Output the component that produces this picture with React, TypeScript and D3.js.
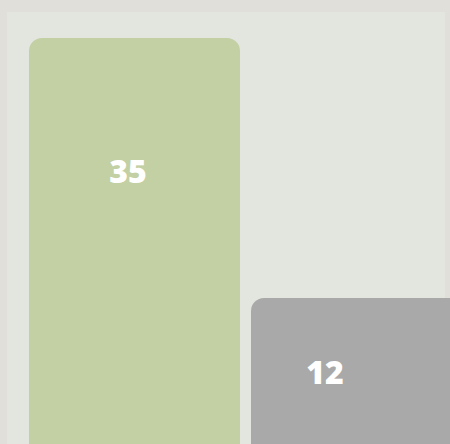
import React, { useEffect, useRef } from 'react';
import * as d3 from 'd3';

const categories = ['A', 'B'];
const values = [35, 12];
const barColors = ['#c2d0a4', '#a9a9a9'];
// where the label sits across each bar (fraction of bar width)
const labelAlong = [0.469, 0.351];

const W = 450;
const H = 444;

const App = () => {
    const svgRef = useRef<SVGSVGElement>(null);

    useEffect(() => {
        document.body.style.margin = '0';
        if (!svgRef.current) return;
        const svg = d3.select(svgRef.current);
        svg.selectAll('*').remove();

        const x = d3.scaleBand()
            .domain(categories)
            .range([29, 462])
            .paddingInner(11 / 222)
            .paddingOuter(0);

        const y = d3.scaleLinear()
            .domain([12, 35])
            .range([298, 38]);

        // page + inner panel
        svg.append('rect')
            .attr('width', W).attr('height', H)
            .attr('fill', '#e1dfda');
        svg.append('rect')
            .attr('x', 7).attr('y', 12)
            .attr('width', 438).attr('height', H)
            .attr('fill', '#e3e6df');

        const data = categories.map((c, i) => ({ c, v: values[i], i }));

        svg.append('g')
            .selectAll('rect')
            .data(data)
            .join('rect')
            .attr('x', d => x(d.c)!)
            .attr('y', d => y(d.v))
            .attr('width', x.bandwidth())
            .attr('height', d => H + 40 - y(d.v))
            .attr('rx', 13)
            .attr('fill', d => barColors[d.i]);

        // label sits between bar top and the visible bottom
        svg.append('g')
            .selectAll('text')
            .data(data)
            .join('text')
            .attr('x', d => x(d.c)! + x.bandwidth() * labelAlong[d.i])
            .attr('y', d => d.i === 0 ? y(d.v) + 132 : y(d.v) + 73)
            .attr('text-anchor', 'middle')
            .attr('dominant-baseline', 'central')
            .attr('fill', '#ffffff')
            .style('font-family', '"Open Sans", sans-serif')
            .style('font-weight', '800')
            .style('font-size', '32px')
            .text(d => d.v);
    }, []);

    return <svg ref={svgRef} width={W} height={H} style={{ display: 'block' }} />;
};

export default App;
